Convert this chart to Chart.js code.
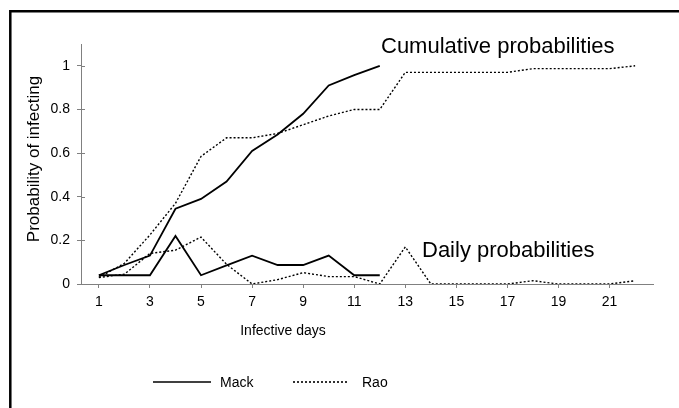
<!DOCTYPE html>
<html>
<head>
<meta charset="utf-8">
<script src="https://cdn.jsdelivr.net/npm/chart.js@4.4.1/dist/chart.umd.min.js"></script>
<style>
  html, body { margin: 0; padding: 0; background: #fff; }
  #wrap { width: 679px; height: 408px; position: relative; }
</style>
</head>
<body>
<div id="wrap"><canvas id="c" width="679" height="408"></canvas></div>
<script>
const days = [1,2,3,4,5,6,7,8,9,10,11,12,13,14,15,16,17,18,19,20,21,22];
const xTickLabels = [1,3,5,7,9,11,13,15,17,19,21];
const yTickValues = [0,0.2,0.4,0.6,0.8,1];

const mackCumulative = [0.04,0.087,0.13,0.345,0.39,0.47,0.61,0.685,0.78,0.91,0.957,1.0];
const mackDaily      = [0.04,0.04,0.04,0.22,0.04,0.085,0.13,0.087,0.087,0.13,0.04,0.04];
const raoCumulative  = [0.03,0.095,0.225,0.37,0.585,0.67,0.67,0.69,0.73,0.77,0.80,0.80,0.97,0.97,0.97,0.97,0.97,0.987,0.987,0.987,0.987,1.0];
const raoDaily       = [0.03,0.045,0.14,0.155,0.215,0.09,0.0,0.02,0.052,0.034,0.034,0.0,0.17,0.0,0.0,0.0,0.0,0.015,0.0,0.0,0.0,0.015];

const annotations = [
  {text: 'Cumulative probabilities', x: 381, y: 53},
  {text: 'Daily probabilities', x: 422, y: 257}
];
const legendItems = [
  {label: 'Mack', dash: [], x0: 153, x1: 211, tx: 220},
  {label: 'Rao', dash: [2,2], x0: 293, x1: 349, tx: 362}
];

const FONT = '"Liberation Sans", Arial, sans-serif';
const pts = arr => arr.map((v,i) => ({x: days[i], y: v}));

const solid = {borderColor: '#000', borderWidth: 1.8, pointRadius: 0, tension: 0, fill: false};
const dotted = {borderColor: '#000', borderWidth: 1.4, borderDash: [2,2], pointRadius: 0, tension: 0, fill: false};

const decor = {
  id: 'decor',
  afterDraw(chart) {
    const ctx = chart.ctx;
    const ys = chart.scales.y;
    const ca = chart.chartArea;
    ctx.save();
    // inner half of y tick marks (crossing the axis)
    ctx.strokeStyle = '#808080';
    ctx.lineWidth = 1;
    yTickValues.forEach(v => {
      const y = Math.round(ys.getPixelForValue(v)) + 0.5;
      ctx.beginPath();
      ctx.moveTo(ca.left, y);
      ctx.lineTo(ca.left + 4, y);
      ctx.stroke();
    });
    // frame
    ctx.strokeStyle = '#000';
    ctx.lineWidth = 2.5;
    ctx.beginPath();
    ctx.moveTo(10.3, 408);
    ctx.lineTo(10.3, 11.2);
    ctx.lineTo(679, 11.2);
    ctx.stroke();
    // annotations
    ctx.fillStyle = '#000';
    ctx.textBaseline = 'alphabetic';
    ctx.textAlign = 'left';
    ctx.font = '22px ' + FONT;
    annotations.forEach(a => ctx.fillText(a.text, a.x, a.y));
    // axis titles
    ctx.font = '14px ' + FONT;
    ctx.textAlign = 'center';
    ctx.textBaseline = 'middle';
    ctx.fillText('Infective days', 283, 331);
    ctx.save();
    ctx.font = '17px ' + FONT;
    ctx.translate(34, 159);
    ctx.rotate(-Math.PI/2);
    ctx.fillText('Probability of infecting', 0, 0);
    ctx.restore();
    // legend
    ctx.textAlign = 'left';
    legendItems.forEach(l => {
      ctx.beginPath();
      ctx.setLineDash(l.dash);
      ctx.lineWidth = 1.6;
      ctx.moveTo(l.x0, 382);
      ctx.lineTo(l.x1, 382);
      ctx.stroke();
      ctx.setLineDash([]);
      ctx.fillText(l.label, l.tx, 383);
    });
    ctx.restore();
  }
};

new Chart(document.getElementById('c'), {
  type: 'line',
  data: {
    datasets: [
      Object.assign({label: 'Mack cumulative', data: pts(mackCumulative)}, solid),
      Object.assign({label: 'Mack daily', data: pts(mackDaily)}, solid),
      Object.assign({label: 'Rao cumulative', data: pts(raoCumulative)}, dotted),
      Object.assign({label: 'Rao daily', data: pts(raoDaily)}, dotted)
    ]
  },
  options: {
    responsive: false,
    animation: false,
    layout: {padding: {left: 0, right: 26, top: 44, bottom: 74}},
    plugins: {legend: {display: false}, tooltip: {enabled: false}, title: {display: false}},
    scales: {
      x: {
        type: 'linear',
        min: 0.3, max: 22.7,
        afterBuildTicks(s) { s.ticks = xTickLabels.map(v => ({value: v})); },
        afterFit(s) { s.height = 50; },
        grid: {display: true, drawOnChartArea: false, drawTicks: true, tickLength: 4, color: '#808080'},
        border: {display: true, color: '#808080', width: 1},
        ticks: {color: '#000', font: {family: FONT, size: 14}, padding: 6, maxRotation: 0, autoSkip: false,
                callback: v => String(v)}
      },
      y: {
        min: 0, max: 1.1,
        afterBuildTicks(s) { s.ticks = yTickValues.map(v => ({value: v})); },
        afterFit(s) { s.width = 81; },
        grid: {display: true, drawOnChartArea: false, drawTicks: true, tickLength: 4, color: '#808080'},
        border: {display: true, color: '#808080', width: 1},
        ticks: {color: '#000', font: {family: FONT, size: 14}, padding: 7,
                callback: v => String(Math.round(v*10)/10)}
      }
    }
  },
  plugins: [decor]
});
</script>
</body>
</html>
